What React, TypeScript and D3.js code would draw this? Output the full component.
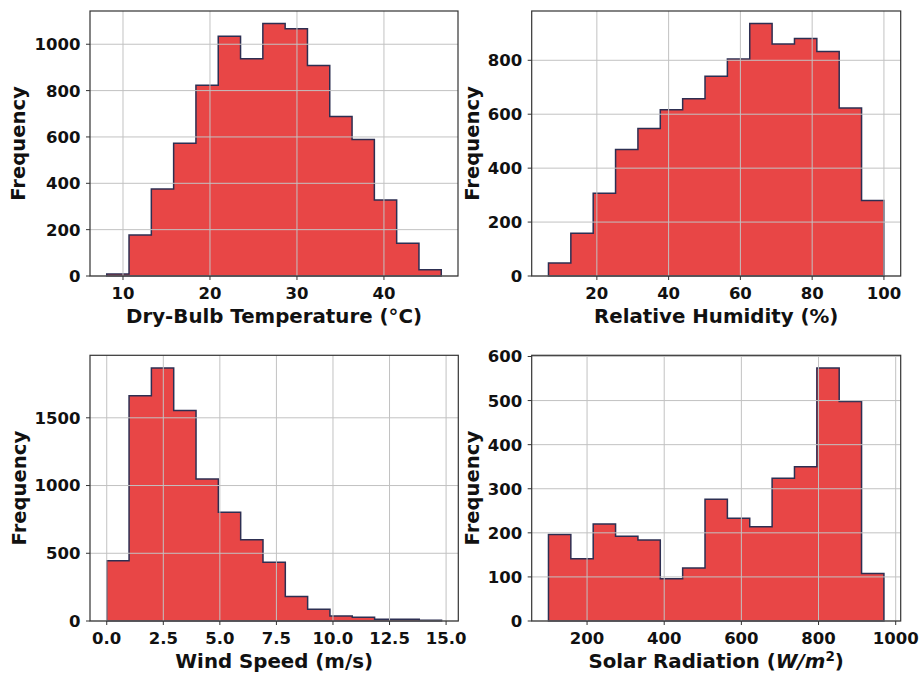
import React from "react";
import * as d3 from "d3";

// Histogram counts (15 equal-width bins each) and the data range the bins span
const tempCounts = [9, 177, 375, 573, 823, 1034, 937, 1089, 1067, 908, 688, 589, 328, 141, 27];
const tempRange = [8.13, 46.59];
const tempXTicks = [10, 20, 30, 40];
const tempYTicks = [0, 200, 400, 600, 800, 1000];

const humidityCounts = [48, 159, 307, 469, 547, 617, 657, 741, 805, 936, 860, 881, 833, 623, 280];
const humidityRange = [6.52, 100];
const humidityXTicks = [20, 40, 60, 80, 100];
const humidityYTicks = [0, 200, 400, 600, 800];

const windCounts = [444, 1663, 1868, 1554, 1049, 802, 600, 434, 180, 86, 37, 27, 12, 12, 5];
const windRange = [0, 14.8];
const windXTicks = [0, 2.5, 5, 7.5, 10, 12.5, 15];
const windYTicks = [0, 500, 1000, 1500];

const solarCounts = [196, 141, 220, 192, 184, 96, 120, 276, 233, 214, 324, 350, 574, 498, 108];
const solarRange = [100, 969.5];
const solarXTicks = [200, 400, 600, 800, 1000];
const solarYTicks = [0, 100, 200, 300, 400, 500, 600];

const FONT = "'DejaVu Sans', Verdana, sans-serif";
const FILL = "#e84646";
const EDGE = "#2d2f52";
const GRID = "#c2c2c2";
const SPINE = "#333333";

type Panel = {
  counts: number[];
  range: number[];
  xTicks: number[];
  yTicks: number[];
  xFmt: (v: number) => string;
  label: React.ReactNode;
  box: { l: number; r: number; t: number; b: number };
  ylabelOffset: number;
};

const plain = (v: number) => String(v);

const panels: Panel[] = [
  {
    counts: tempCounts, range: tempRange, xTicks: tempXTicks, yTicks: tempYTicks,
    xFmt: plain, label: "Dry-Bulb Temperature (°C)",
    box: { l: 90, r: 458, t: 11, b: 276 }, ylabelOffset: 65,
  },
  {
    counts: humidityCounts, range: humidityRange, xTicks: humidityXTicks, yTicks: humidityYTicks,
    xFmt: plain, label: "Relative Humidity (%)",
    box: { l: 531.7, r: 900.7, t: 11, b: 276 }, ylabelOffset: 53,
  },
  {
    counts: windCounts, range: windRange, xTicks: windXTicks, yTicks: windYTicks,
    xFmt: (v) => v.toFixed(1), label: "Wind Speed (m/s)",
    box: { l: 90, r: 458.3, t: 355.3, b: 621 }, ylabelOffset: 64,
  },
  {
    counts: solarCounts, range: solarRange, xTicks: solarXTicks, yTicks: solarYTicks,
    xFmt: plain,
    label: (
      <>
        Solar Radiation (
        <tspan fontStyle="italic">W/m</tspan>
        <tspan dy={-7} fontSize={13.5}>2</tspan>
        <tspan dy={7}>)</tspan>
      </>
    ),
    box: { l: 531.7, r: 900.7, t: 355.3, b: 621 }, ylabelOffset: 53,
  },
];

function Histogram({ p }: { p: Panel }) {
  const { l, r, t, b } = p.box;
  const [lo, hi] = p.range;
  const n = p.counts.length;
  const pad = (hi - lo) * 0.05;
  const x = d3.scaleLinear().domain([lo - pad, hi + pad]).range([l, r]);
  const y = d3.scaleLinear().domain([0, (d3.max(p.counts) as number) * 1.05]).range([b, t]);
  const edges = d3.range(n + 1).map((i) => lo + ((hi - lo) * i) / n);

  // step outline of the filled histogram
  const pts: [number, number][] = [[edges[0], 0]];
  p.counts.forEach((c, i) => {
    pts.push([edges[i], c]);
    pts.push([edges[i + 1], c]);
  });
  pts.push([edges[n], 0]);
  const path = d3.line<[number, number]>().x((d) => x(d[0])).y((d) => y(d[1]))(pts) + "Z";

  const xt = p.xTicks.filter((v) => x(v) >= l - 0.5 && x(v) <= r + 0.5);
  const yt = p.yTicks.filter((v) => y(v) >= t - 0.5);

  return (
    <g fontFamily={FONT} fontWeight="bold">
      <path d={path} fill={FILL} stroke={EDGE} strokeWidth={1.5} strokeLinejoin="miter" />
      {/* grid drawn over the bars */}
      {xt.map((v) => (
        <line key={"gx" + v} x1={x(v)} x2={x(v)} y1={t} y2={b} stroke={GRID} strokeWidth={1} />
      ))}
      {yt.map((v) => (
        <line key={"gy" + v} x1={l} x2={r} y1={y(v)} y2={y(v)} stroke={GRID} strokeWidth={1} />
      ))}
      <rect x={l} y={t} width={r - l} height={b - t} fill="none" stroke={SPINE} strokeWidth={1.2} />
      {xt.map((v) => (
        <g key={"tx" + v}>
          <line x1={x(v)} x2={x(v)} y1={b} y2={b + 4} stroke={SPINE} strokeWidth={1} />
          <text x={x(v)} y={b + 23} textAnchor="middle" fontSize={16.5} fill="#111">
            {p.xFmt(v)}
          </text>
        </g>
      ))}
      {yt.map((v) => (
        <g key={"ty" + v}>
          <line x1={l - 4} x2={l} y1={y(v)} y2={y(v)} stroke={SPINE} strokeWidth={1} />
          <text x={l - 9.5} y={y(v)} dy="0.36em" textAnchor="end" fontSize={16.5} fill="#111">
            {plain(v)}
          </text>
        </g>
      ))}
      <text x={(l + r) / 2} y={b + 47} textAnchor="middle" fontSize={19.8} fill="#111">
        {p.label}
      </text>
      <text
        transform={`translate(${l - p.ylabelOffset},${(t + b) / 2}) rotate(-90)`}
        textAnchor="middle"
        fontSize={19.6}
        fill="#111"
      >
        Frequency
      </text>
    </g>
  );
}

export default function App() {
  return (
    <svg
      width={921}
      height={677}
      style={{ position: "absolute", left: 0, top: 0, background: "#fff" }}
    >
      <rect width={921} height={677} fill="#fff" />
      {panels.map((p, i) => (
        <Histogram key={i} p={p} />
      ))}
    </svg>
  );
}
